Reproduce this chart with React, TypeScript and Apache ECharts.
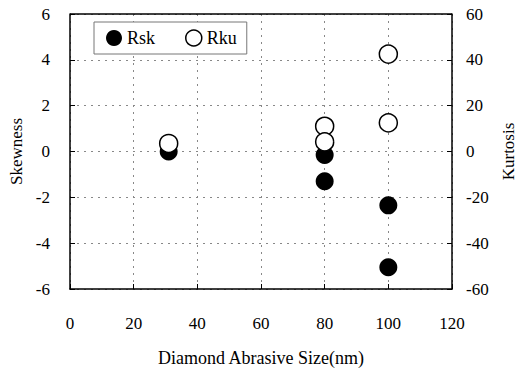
import React, { useEffect, useRef } from "react";
import * as echarts from "echarts";

const rskData: [number, number][] = [
  [31, 0.0],
  [80, -0.15],
  [80, -1.3],
  [100, -2.35],
  [100, -5.05],
];
const rkuData: [number, number][] = [
  [31, 3.5],
  [80, 11],
  [80, 4.2],
  [100, 42.5],
  [100, 12.5],
];
const xTitle = "Diamond Abrasive Size(nm)";
const yLeftTitle = "Skewness";
const yRightTitle = "Kurtosis";

const FONT = "Liberation Serif";

export default function App() {
  const ref = useRef<HTMLDivElement>(null);
  useEffect(() => {
    if (!ref.current) return;
    const chart = echarts.init(ref.current, null, { renderer: "svg", width: 518, height: 372 });
    const gridLine = { show: true, lineStyle: { color: "#888", type: [2, 5] as any, width: 1 } };
    const txt = { fontFamily: FONT, fontSize: 17, color: "#000" };
    chart.setOption({
      animation: false,
      backgroundColor: "#fff",
      textStyle: { fontFamily: FONT },
      grid: { left: 70, right: 66, top: 14, bottom: 83, outerBoundsMode: "none", containLabel: false },
      legend: {
        left: 94,
        top: 22,
        width: 162,
        height: 32,
        itemGap: 30,
        padding: [7, 10, 7, 12],
        borderColor: "#777",
        borderWidth: 1,
        backgroundColor: "#fff",
        itemWidth: 16,
        itemHeight: 16,
        textStyle: { fontFamily: FONT, fontSize: 18, color: "#000" },
        data: [
          { name: "Rsk", icon: "circle" },
          {
            name: "Rku",
            icon: "circle",
            itemStyle: { color: "#fff", borderColor: "#000", borderWidth: 1.5 },
          },
        ],
      },
      xAxis: {
        type: "value",
        min: 0,
        max: 120,
        interval: 20,
        name: xTitle,
        nameLocation: "middle",
        nameGap: 60,
        nameTextStyle: { ...txt, fontSize: 18 },
        axisLine: { show: true, onZero: false, lineStyle: { color: "#000", width: 1.5 } },
        axisTick: { show: true, inside: true, length: 5, lineStyle: { color: "#000" } },
        axisLabel: { ...txt, margin: 26 },
        splitLine: gridLine,
      },
      yAxis: [
        {
          type: "value",
          min: -6,
          max: 6,
          interval: 2,
          name: yLeftTitle,
          nameLocation: "middle",
          nameGap: 38,
          nameTextStyle: { ...txt },
          axisLine: { show: true, lineStyle: { color: "#000", width: 1.5 } },
          axisTick: { show: true, inside: true, length: 5, lineStyle: { color: "#000" } },
          axisLabel: { ...txt, margin: 20 },
          splitLine: gridLine,
        },
        {
          type: "value",
          min: -60,
          max: 60,
          interval: 20,
          name: yRightTitle,
          nameLocation: "middle",
          nameGap: 46,
          nameRotate: 90,
          nameTextStyle: { ...txt },
          axisLine: { show: true, lineStyle: { color: "#000", width: 1.5 } },
          axisTick: { show: true, inside: true, length: 5, lineStyle: { color: "#000" } },
          axisLabel: { ...txt, margin: 14 },
          splitLine: { show: false },
        },
      ],
      series: [
        {
          name: "Rsk",
          type: "scatter",
          yAxisIndex: 0,
          data: rskData,
          symbol: "circle",
          symbolSize: 18,
          itemStyle: { color: "#000", opacity: 1 },
          z: 2,
        },
        {
          name: "Rku",
          type: "scatter",
          yAxisIndex: 1,
          data: rkuData,
          symbol: "circle",
          symbolSize: 18,
          itemStyle: { color: "#fff", borderColor: "#000", borderWidth: 1.5, opacity: 1 },
          z: 3,
        },
      ],
      graphic: [
        {
          type: "line",
          shape: { x1: 70, y1: 14, x2: 452, y2: 14 },
          style: { stroke: "#000", lineWidth: 1.5 },
          z: 10,
        },
      ],
    });
    return () => chart.dispose();
  }, []);
  return (
    <div
      ref={ref}
      style={{ position: "fixed", left: 0, top: 0, width: 518, height: 372, overflow: "hidden" }}
    />
  );
}
